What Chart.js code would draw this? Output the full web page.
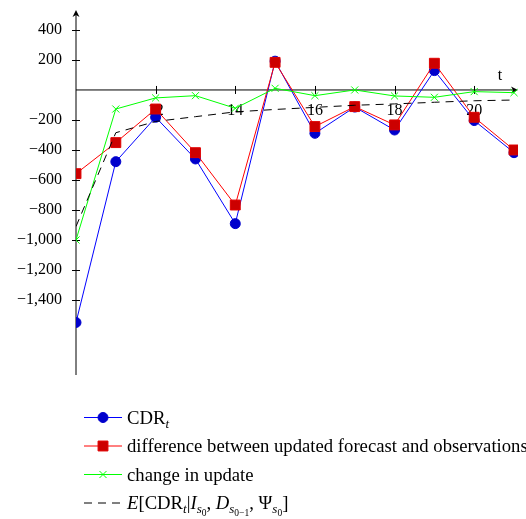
<!DOCTYPE html>
<html>
<head>
<meta charset="utf-8">
<script src="https://cdn.jsdelivr.net/npm/chart.js@4.4.0/dist/chart.umd.min.js"></script>
<style>
  html, body { margin: 0; padding: 0; background: #fff; }
</style>
</head>
<body>
<canvas id="chart" width="526" height="519"></canvas>
<script>
// values
const tValues = [10, 11, 12, 13, 14, 15, 16, 17, 18, 19, 20, 21];
const cdrValues = [-1550, -478, -182, -460, -891, 192, -289, -114, -267, 129, -204, -418];
const diffValues = [-558, -351, -127, -418, -767, 184, -244, -111, -233, 178, -182, -400];
const changeValues = [-1000, -127, -53, -38, -122, 11, -38, 0, -40, -49, -11, -18];
const expectedValues = [-910, -285, -210, -178, -146, -130, -116, -102, -93, -82, -72, -67];
const xTickValues = [12, 14, 16, 18, 20];
const yTickValues = [-1400, -1200, -1000, -800, -600, -400, -200, 200, 400];

// legend labels with sub/superscript pieces
const legendLabels = [
  [{ t: 'CDR' }, { t: 't', sub: 1, it: true }],
  [{ t: 'difference between updated forecast and observations' }],
  [{ t: 'change in update' }],
  [{ t: 'E', it: true }, { t: '[CDR' }, { t: 't', sub: 1, it: true }, { t: '|' }, { t: 'I', it: true },
   { t: 's', sub: 1, it: true }, { t: '0', sub: 2 }, { t: ', ' }, { t: 'D', it: true },
   { t: 's', sub: 1, it: true }, { t: '0\u22121', sub: 2 }, { t: ', \u03A8' },
   { t: 's', sub: 1, it: true }, { t: '0', sub: 2 }, { t: ']' }]
];

const FONT = 'Liberation Serif';

function points(values) {
  return tValues.map((t, i) => ({ x: t, y: values[i] }));
}

function formatTick(v) {
  const s = Math.abs(v).toLocaleString('en-US');
  return v < 0 ? '\u2212' + s : s;
}

// draws the middle axes with arrows and ticks crossing the lines
const axesPlugin = {
  id: 'middleAxes',
  beforeDatasetsDraw(chart) {
    const { ctx, chartArea, scales } = chart;
    const x0 = scales.x.getPixelForValue(10);
    const y0 = scales.y.getPixelForValue(0);
    ctx.save();
    ctx.strokeStyle = '#000';
    ctx.fillStyle = '#000';
    ctx.lineWidth = 1;
    ctx.beginPath();
    ctx.moveTo(chartArea.left, y0);
    ctx.lineTo(chartArea.right - 2, y0);
    ctx.moveTo(x0, chartArea.bottom);
    ctx.lineTo(x0, chartArea.top + 2);
    xTickValues.forEach(v => {
      const px = Math.round(scales.x.getPixelForValue(v)) + 0.5;
      ctx.moveTo(px, y0 - 4);
      ctx.lineTo(px, y0 + 4);
    });
    yTickValues.forEach(v => {
      const py = Math.round(scales.y.getPixelForValue(v)) + 0.5;
      ctx.moveTo(x0 - 4, py);
      ctx.lineTo(x0 + 4, py);
    });
    ctx.stroke();
    // arrow heads
    ctx.beginPath();
    ctx.moveTo(chartArea.right, y0);
    ctx.lineTo(chartArea.right - 7, y0 - 3.5);
    ctx.lineTo(chartArea.right - 5, y0);
    ctx.lineTo(chartArea.right - 7, y0 + 3.5);
    ctx.closePath();
    ctx.moveTo(x0, chartArea.top);
    ctx.lineTo(x0 - 3.5, chartArea.top + 7);
    ctx.lineTo(x0, chartArea.top + 5);
    ctx.lineTo(x0 + 3.5, chartArea.top + 7);
    ctx.closePath();
    ctx.fill();
    ctx.font = '16px "' + FONT + '"';
    ctx.textAlign = 'center';
    ctx.textBaseline = 'middle';
    ctx.fillText('t', chartArea.right - 18, y0 - 14);
    ctx.restore();
  }
};

function drawMarker(ctx, ds, x, y) {
  const r = ds.pointRadius;
  ctx.fillStyle = ds.pointBackgroundColor;
  ctx.strokeStyle = ds.pointBorderColor;
  ctx.lineWidth = 1;
  ctx.beginPath();
  if (ds.pointStyle === 'circle') {
    ctx.arc(x, y, r, 0, Math.PI * 2);
    ctx.fill();
    ctx.stroke();
  } else if (ds.pointStyle === 'rect') {
    const s = r * Math.SQRT1_2;
    ctx.rect(x - s, y - s, 2 * s, 2 * s);
    ctx.fill();
    ctx.stroke();
  } else if (ds.pointStyle === 'crossRot') {
    const s = r * Math.SQRT1_2;
    ctx.moveTo(x - s, y - s);
    ctx.lineTo(x + s, y + s);
    ctx.moveTo(x - s, y + s);
    ctx.lineTo(x + s, y - s);
    ctx.stroke();
  }
}

function drawRichText(ctx, parts, x, baseline) {
  parts.forEach(p => {
    const size = p.sub === 2 ? 9.5 : p.sub === 1 ? 13 : 18.7;
    const dy = p.sub === 2 ? 7 : p.sub === 1 ? 4 : 0;
    ctx.font = (p.it ? 'italic ' : '') + size + 'px "' + FONT + '"';
    ctx.fillText(p.t, x, baseline + dy);
    x += ctx.measureText(p.t).width;
  });
}

// legend below the plot, one entry per line
const legendPlugin = {
  id: 'richLegend',
  afterDraw(chart) {
    const { ctx } = chart;
    ctx.save();
    chart.data.datasets.forEach((ds, row) => {
      const y = 417.5 + row * 28.5;
      ctx.strokeStyle = ds.borderColor;
      ctx.lineWidth = ds.borderWidth;
      ctx.setLineDash(ds.borderDash || []);
      ctx.beginPath();
      ctx.moveTo(84, y);
      ctx.lineTo(122, y);
      ctx.stroke();
      ctx.setLineDash([]);
      if (ds.pointRadius > 0) drawMarker(ctx, ds, 103, y);
      ctx.fillStyle = '#000';
      ctx.textAlign = 'left';
      ctx.textBaseline = 'alphabetic';
      drawRichText(ctx, legendLabels[row], 127, y + 6);
    });
    ctx.restore();
  }
};

const ctx = document.getElementById('chart').getContext('2d');
new Chart(ctx, {
  type: 'line',
  data: {
    datasets: [
      {
        label: 'CDR_t',
        data: points(cdrValues),
        borderColor: '#0000ff',
        borderWidth: 1,
        pointStyle: 'circle',
        pointRadius: 5,
        pointBackgroundColor: '#0000cc',
        pointBorderColor: '#0000cc',
        order: 3
      },
      {
        label: 'difference between updated forecast and observations',
        data: points(diffValues),
        borderColor: '#ff0000',
        borderWidth: 1,
        pointStyle: 'rect',
        pointRadius: 7,
        pointBackgroundColor: '#cc0000',
        pointBorderColor: '#e00000',
        order: 2
      },
      {
        label: 'change in update',
        data: points(changeValues),
        borderColor: '#00ff00',
        borderWidth: 1,
        pointStyle: 'crossRot',
        pointRadius: 5,
        pointBackgroundColor: '#00ff00',
        pointBorderColor: '#00ff00',
        order: 1
      },
      {
        label: 'E[CDR_t|I_s0, D_s0-1, Psi_s0]',
        data: points(expectedValues),
        borderColor: '#000000',
        borderWidth: 1,
        borderDash: [8, 6],
        pointRadius: 0,
        order: 0
      }
    ]
  },
  options: {
    responsive: false,
    animation: false,
    layout: { padding: { top: 10, right: 6, bottom: 144, left: 0 } },
    plugins: {
      legend: { display: false },
      tooltip: { enabled: false }
    },
    scales: {
      x: {
        type: 'linear',
        min: 10,
        max: 21.1,
        position: { y: 0 },
        afterFit: s => { s.height = 0; s.paddingLeft = 0; s.paddingRight = 0; },
        afterBuildTicks: s => { s.ticks = xTickValues.map(v => ({ value: v })); },
        grid: { display: false, tickLength: 4 },
        border: { display: false },
        ticks: { color: '#000', padding: 7, maxRotation: 0, font: { family: FONT, size: 16 } }
      },
      y: {
        type: 'linear',
        min: -1900,
        max: 533,
        position: 'left',
        afterFit: s => { s.width = 76; s.paddingTop = 0; s.paddingBottom = 0; },
        afterBuildTicks: s => { s.ticks = yTickValues.map(v => ({ value: v })); },
        grid: { display: false, tickLength: 4 },
        border: { display: false },
        ticks: { color: '#000', padding: 10, font: { family: FONT, size: 16 }, callback: v => formatTick(v) }
      }
    }
  },
  plugins: [axesPlugin, legendPlugin]
});
</script>
</body>
</html>
